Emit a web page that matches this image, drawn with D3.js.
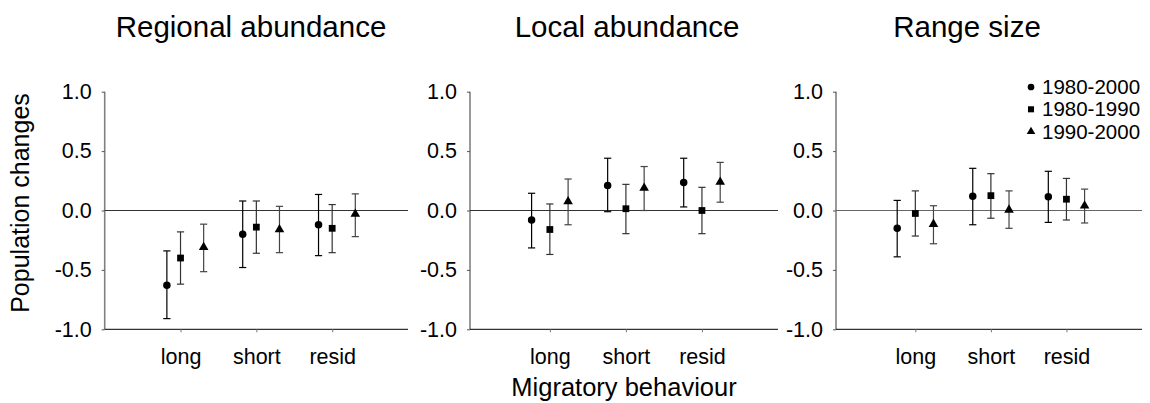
<!DOCTYPE html>
<html>
<head>
<meta charset="utf-8">
<script src="https://cdn.jsdelivr.net/npm/d3@7"></script>
<style>
  body { margin: 0; background: #fff; }
  svg { display: block; font-family: "Liberation Sans", Arial, sans-serif; }
</style>
</head>
<body>
<div id="chart"></div>
<script>

// categories / series
var categories = ["long", "short", "resid"];
var periods = ["1980-2000", "1980-1990", "1990-2000"];
var panelTitles = ["Regional abundance", "Local abundance", "Range size"];
var yTicks = [-1.0, -0.5, 0.0, 0.5, 1.0];

// Regional abundance: mean, lower and upper error bar ends per period
var regionalMean = [[-0.63, -0.20, -0.12], [-0.40, -0.14, -0.15], [-0.31, -0.16, -0.03]];
var regionalLow  = [[-0.91, -0.48, -0.38], [-0.62, -0.36, -0.355], [-0.515, -0.355, -0.22]];
var regionalHigh = [[-0.34, 0.08, 0.135], [-0.18, 0.08, 0.05], [-0.115, 0.035, 0.14]];

// Local abundance
var localMean = [[-0.08, 0.21, 0.235], [-0.16, 0.015, 0.0], [0.075, 0.19, 0.24]];
var localLow  = [[-0.315, -0.01, 0.03], [-0.37, -0.195, -0.195], [-0.12, 0.0, 0.07]];
var localHigh = [[0.145, 0.44, 0.44], [0.055, 0.22, 0.195], [0.265, 0.37, 0.405]];

// Range size
var rangeMean = [[-0.15, 0.12, 0.115], [-0.025, 0.125, 0.095], [-0.115, 0.005, 0.04]];
var rangeLow  = [[-0.39, -0.12, -0.10], [-0.215, -0.065, -0.08], [-0.28, -0.15, -0.105]];
var rangeHigh = [[0.085, 0.355, 0.33], [0.165, 0.31, 0.27], [0.04, 0.165, 0.18]];

var width = 1150, height = 403;

var svg = d3.select("#chart").append("svg")
  .attr("width", width)
  .attr("height", height);

// layout of the three panels (axis left/right in px, x domain start, point offsets)
var panels = [
  {title: panelTitles[0], mean: regionalMean, low: regionalLow, high: regionalHigh,
   left: 104.7, right: 408, x0: 0, offsets: [-0.18, 0, 0.305], titleX: 251},
  {title: panelTitles[1], mean: localMean, low: localLow, high: localHigh,
   left: 470, right: 778, x0: -0.05, offsets: [-0.24, 0, 0.24], titleX: 627},
  {title: panelTitles[2], mean: rangeMean, low: rangeLow, high: rangeHigh,
   left: 836, right: 1142, x0: -0.05, offsets: [-0.24, 0, 0.24], titleX: 967}
];

var y = d3.scaleLinear().domain([-1, 1]).range([329.3, 91.7]);

var symbols = [d3.symbolCircle, d3.symbolSquare, d3.symbolTriangle];
var symbolSizes = [44, 46, 40];
var barColors = ["#000", "#333", "#444"];

panels.forEach(function (p, pi) {

  var x = d3.scaleLinear().domain([p.x0, 4]).range([p.left, p.right]);
  var g = svg.append("g").attr("class", "panel");

  // title
  g.append("text")
    .attr("x", p.titleX)
    .attr("y", 37)
    .attr("text-anchor", "middle")
    .attr("font-size", "29.5px")
    .text(p.title);

  // y axis
  var yAxis = g.append("g")
    .attr("transform", "translate(" + p.left + ",0)")
    .call(d3.axisLeft(y).tickValues(yTicks).tickSize(3).tickPadding(10)
      .tickFormat(function (d) { return d.toFixed(1); }));
  yAxis.select(".domain").attr("stroke", "#808080").attr("stroke-width", 1.6)
    .attr("d", "M0," + y(1) + "V" + y(-1));
  yAxis.selectAll(".tick line").attr("stroke", "#555");
  yAxis.selectAll(".tick text").attr("font-size", "21.5px").attr("fill", "#000")
    .attr("font-family", "Liberation Sans, Arial, sans-serif");

  // x axis (bottom line at -1.0)
  var xAxis = g.append("g")
    .attr("transform", "translate(0," + y(-1) + ")")
    .call(d3.axisBottom(x).tickValues([1, 2, 3]).tickSize(3).tickPadding(16)
      .tickFormat(function (d) { return categories[d - 1]; }));
  xAxis.select(".domain").attr("stroke", "#000")
    .attr("d", "M" + p.left + ",0H" + p.right);
  xAxis.selectAll(".tick line").attr("stroke", "#777");
  xAxis.selectAll(".tick text").attr("font-size", "21.5px").attr("fill", "#000")
    .attr("font-family", "Liberation Sans, Arial, sans-serif");

  // zero line
  g.append("line")
    .attr("x1", p.left).attr("x2", p.right)
    .attr("y1", y(0)).attr("y2", y(0))
    .attr("stroke", pi === 2 ? "#666" : "#333")
    .attr("stroke-width", 1.2);

  // error bars and markers
  periods.forEach(function (per, si) {
    categories.forEach(function (cat, ci) {
      var cx = x(ci + 1 + p.offsets[si]);
      var lo = y(p.low[si][ci]), hi = y(p.high[si][ci]);
      var eb = g.append("g").attr("stroke", barColors[si]).attr("stroke-width", 1.2);
      eb.append("line").attr("x1", cx).attr("x2", cx).attr("y1", lo).attr("y2", hi);
      eb.append("line").attr("x1", cx - 3.6).attr("x2", cx + 3.6).attr("y1", lo).attr("y2", lo);
      eb.append("line").attr("x1", cx - 3.6).attr("x2", cx + 3.6).attr("y1", hi).attr("y2", hi);
      g.append("path")
        .attr("d", d3.symbol().type(symbols[si]).size(symbolSizes[si]))
        .attr("transform", "translate(" + cx + "," + y(p.mean[si][ci]) + ")")
        .attr("fill", "#000");
    });
  });
});

// axis titles
svg.append("text")
  .attr("transform", "translate(29,203) rotate(-90)")
  .attr("text-anchor", "middle")
  .attr("font-size", "25px")
  .text("Population changes");

svg.append("text")
  .attr("x", 624)
  .attr("y", 396)
  .attr("text-anchor", "middle")
  .attr("font-size", "25.5px")
  .text("Migratory behaviour");

// legend
var legend = svg.append("g").attr("transform", "translate(1031,87)");
periods.forEach(function (per, si) {
  var row = legend.append("g").attr("transform", "translate(0," + (si * 22.3) + ")");
  row.append("path")
    .attr("d", d3.symbol().type(symbols[si]).size(symbolSizes[si] * 0.8))
    .attr("fill", "#000");
  row.append("text")
    .attr("x", 11)
    .attr("y", 7)
    .attr("font-size", "20.5px")
    .text(per);
});

</script>
</body>
</html>
